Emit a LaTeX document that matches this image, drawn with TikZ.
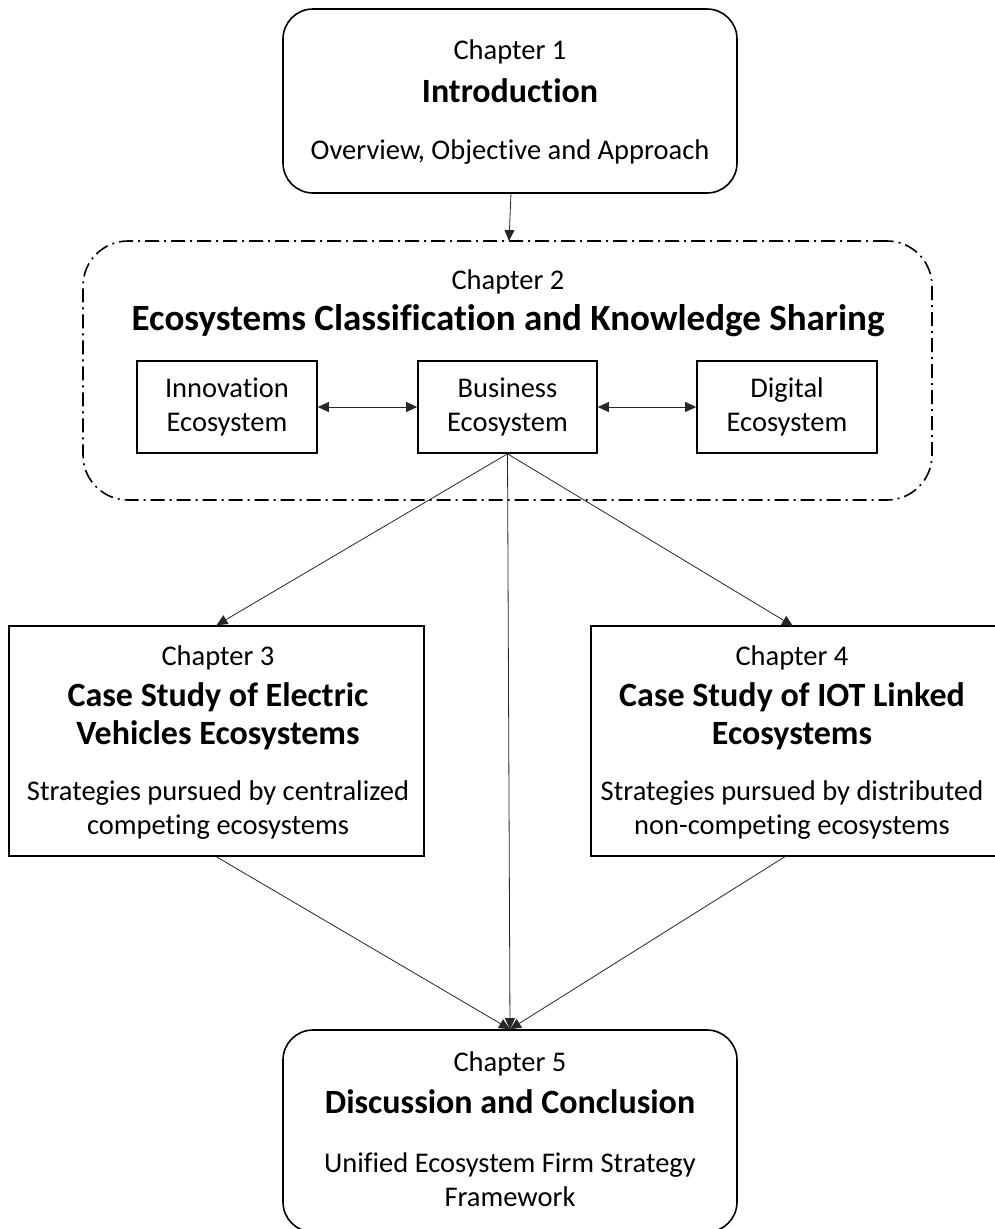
\documentclass[tikz,border=0pt]{standalone}
\usepackage{fontspec}
\setmainfont[Ligatures=NoCommon]{Carlito}
\usetikzlibrary{arrows.meta}
\tikzset{
  box/.style={draw=black, line width=1.6pt, rectangle, inner sep=0pt},
  rbox/.style={box, rounded corners=30pt},
  dbox/.style={draw=black, line width=1.6pt, rounded corners=45pt, dash pattern=on 14pt off 5pt on 2pt off 5pt, inner sep=0pt},
  conn/.style={draw=black!85, line width=0.8pt},
  arr/.style={conn, -{Triangle[length=11pt,width=10pt]}},
  darr/.style={conn, {Triangle[length=11pt,width=10pt]}-{Triangle[length=11pt,width=10pt]}},
  reg/.style={font=\fontsize{28.5}{34}\selectfont, inner sep=0pt, align=center},
  bld/.style={font=\fontsize{34}{38}\selectfont\bfseries, inner sep=0pt, align=center},
  bldbig/.style={font=\fontsize{37}{40}\selectfont\bfseries, inner sep=0pt, align=center},
}
\begin{document}
\begin{tikzpicture}[x=1pt,y=-1pt]
\useasboundingbox (0,0) rectangle (995,1229);
\begin{scope}
\clip (0,0) rectangle (995,1229);
% boxes
\node[rbox, minimum width=454pt, minimum height=184pt] (c1) at (510,101) {};
\node[dbox, minimum width=849pt, minimum height=259pt] (c2) at (507.5,370.5) {};
\node[box, minimum width=180pt, minimum height=92pt] (inno) at (227,407) {};
\node[box, minimum width=179pt, minimum height=92pt] (bus) at (507.5,407) {};
\node[box, minimum width=180pt, minimum height=92pt] (dig) at (787,407) {};
\node[box, minimum width=415pt, minimum height=230pt] (c3) at (216.5,741) {};
\node[box, minimum width=415pt, minimum height=230pt] (c4) at (798.5,741) {};
\node[rbox, minimum width=454pt, minimum height=202pt] (c5) at (510,1131) {};
\end{scope}
% texts
\node[reg] (t1a) at (510,52) {Chapter 1};
\node[bld] (t1b) at (510,91) {Introduction};
\node[reg] (t1c) at (510,152) {Overview, Objective and Approach};
\node[reg] (t2a) at (508,282) {Chapter 2};
\node[bldbig] (t2b) at (508,321) {Ecosystems Classification and Knowledge Sharing};
\node[reg] (tia) at (inno) {Innovation\\Ecosystem};
\node[reg] (tba) at (bus) {Business\\Ecosystem};
\node[reg] (tda) at (dig) {Digital\\Ecosystem};
\node[reg] (t3a) at (218,658) {Chapter 3};
\node[bld] (t3b) at (218,716) {Case Study of Electric\\Vehicles Ecosystems};
\node[reg] (t3c) at (218,810) {Strategies pursued by centralized\\competing ecosystems};
\node[reg] (t4a) at (792,658) {Chapter 4};
\node[bld] (t4b) at (792,716) {Case Study of IOT Linked\\Ecosystems};
\node[reg] (t4c) at (792,810) {Strategies pursued by distributed\\non-competing ecosystems};
\node[reg] (t5a) at (510,1064) {Chapter 5};
\node[bld] (t5b) at (510,1102) {Discussion and Conclusion};
\node[reg] (t5c) at (510,1180) {Unified Ecosystem Firm Strategy\\Framework};
% connectors
\coordinate (c1s) at (511,193);
\coordinate (c2n) at (509,241);
\draw[arr] (c1s) -- (c2n);
\draw[darr] (inno.east) -- (bus.west);
\draw[darr] (bus.east) -- (dig.west);
\coordinate (c4n) at (793,626);
\draw[arr] (bus.south) -- (c3.north);
\draw[arr] (bus.south) -- (c4n);
\draw[arr] (bus.south) -- (c5.north);
\coordinate (c4s) at (786,856);
\draw[arr] (c3.south) -- (c5.north);
\draw[arr] (c4s) -- (c5.north);
\end{tikzpicture}
\end{document}
